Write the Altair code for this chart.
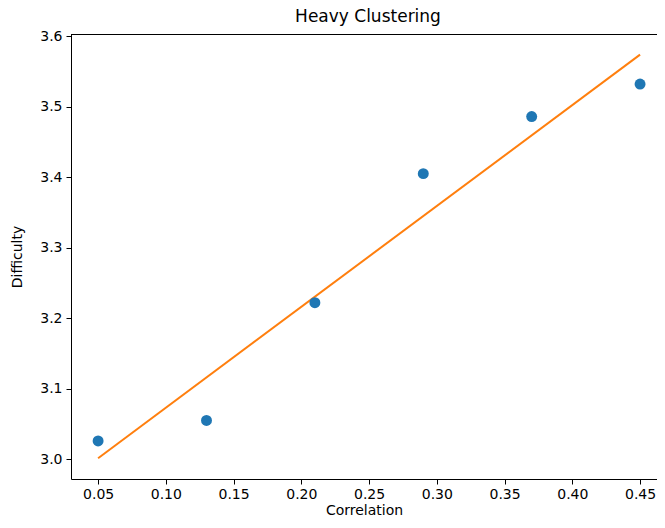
import altair as alt
import pandas as pd

# Data
correlation = [0.05, 0.13, 0.21, 0.29, 0.37, 0.45]
difficulty = [3.026, 3.055, 3.222, 3.405, 3.486, 3.532]
chart_title = ["Heavy Clustering"]

x_ticks = [0.05, 0.10, 0.15, 0.20, 0.25, 0.30, 0.35, 0.40, 0.45]
y_ticks = [3.0, 3.1, 3.2, 3.3, 3.4, 3.5, 3.6]

x_domain = [0.03, 0.4625]
y_domain = [2.972, 3.603]

df = pd.DataFrame({"Correlation": correlation, "Difficulty": difficulty})
title_df = pd.DataFrame({"t": chart_title})

W, H = 586, 445

x_enc = alt.X(
    "Correlation:Q",
    scale=alt.Scale(domain=x_domain, nice=False, zero=False),
    axis=alt.Axis(values=x_ticks, format=".2f", title="Correlation", grid=False,
                  tickSize=5, labelPadding=3, titlePadding=2),
)
y_enc = alt.Y(
    "Difficulty:Q",
    scale=alt.Scale(domain=y_domain, nice=False, zero=False),
    axis=alt.Axis(values=y_ticks, format=".1f", title="Difficulty", grid=False,
                  tickSize=5, labelPadding=4, titlePadding=15),
)

points = alt.Chart(df).mark_circle(size=120, color="#1f77b4", opacity=1).encode(x=x_enc, y=y_enc)

line = (
    alt.Chart(df)
    .transform_regression("Correlation", "Difficulty", method="linear")
    .mark_line(color="#ff7f0e", strokeWidth=2)
    .encode(x=x_enc, y=y_enc)
)

top_spine = alt.Chart(df).mark_rule(color="black", strokeWidth=1).encode(
    x=alt.value(0), x2=alt.value(W), y=alt.value(0.5)
)

title_mark = alt.Chart(title_df).mark_text(
    font="DejaVu Sans", fontSize=17, color="black", align="center", baseline="middle"
).encode(text="t:N", x=alt.value(297), y=alt.value(-17))

chart = (
    alt.layer(line, points, top_spine, title_mark)
    .properties(
        width=W,
        height=H,
        autosize=alt.AutoSizeParams(type="none"),
        padding={"left": 63, "top": 26, "right": 0, "bottom": 41},
    )
    .configure(font="DejaVu Sans")
    .configure_view(stroke=None)
    .configure_axis(
        labelFont="DejaVu Sans",
        titleFont="DejaVu Sans",
        labelFontSize=14,
        titleFontSize=14,
        labelColor="black",
        titleColor="black",
        titleFontWeight="normal",
        domainColor="black",
        tickColor="black",
        domainWidth=1,
        tickWidth=1,
    )
)

chart.save("out.html", embed_options={"renderer": "svg", "actions": False})
